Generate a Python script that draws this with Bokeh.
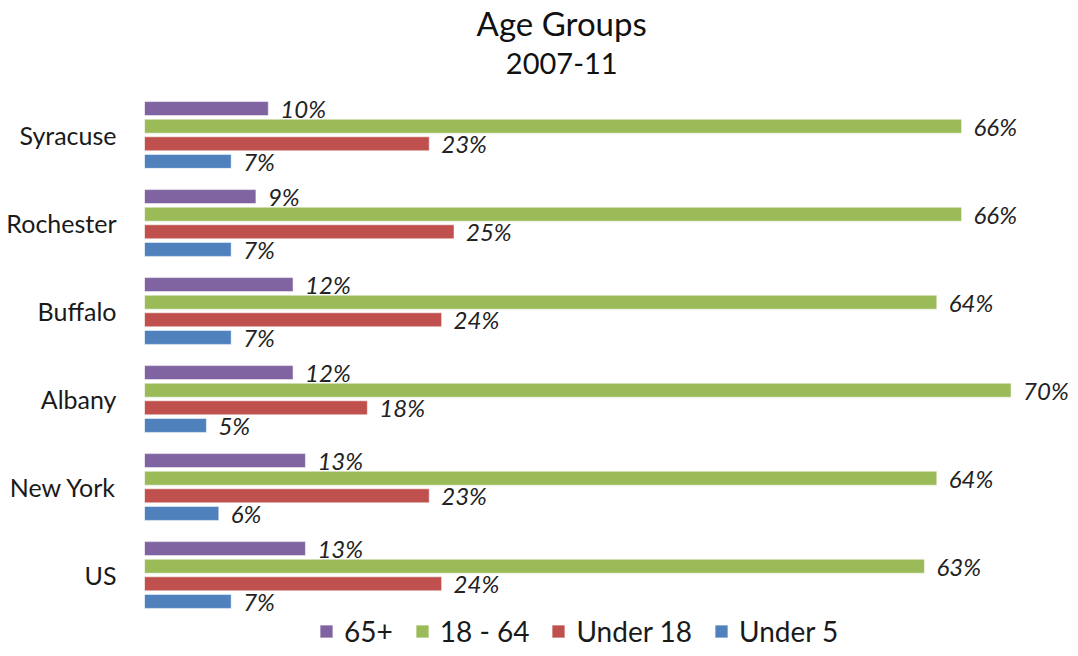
from bokeh.plotting import figure
from bokeh.models import ColumnDataSource, Range1d, FixedTicker, Legend, LegendItem, Label
from bokeh.transform import dodge
from bokeh.core.properties import value
from bokeh.embed import file_html
from bokeh.resources import INLINE

# ---- data ----
cities = ["Syracuse", "Rochester", "Buffalo", "Albany", "New York", "US"]
age_65_plus = [10, 9, 12, 12, 13, 13]
age_18_64 = [66, 66, 64, 70, 64, 63]
under_18 = [23, 25, 24, 18, 23, 24]
under_5 = [7, 7, 7, 5, 6, 7]
series_names = ["65+", "18 - 64", "Under 18", "Under 5"]
series_colors = ["#8064A2", "#9BBB59", "#C0504D", "#4F81BD"]
title_text = "Age Groups"
subtitle_text = "2007-11"

FONT = "Lato"
n = len(cities)
ypos = [n - 1 - i for i in range(n)]

src = ColumnDataSource(dict(
    y=ypos,
    s0=age_65_plus, s1=age_18_64, s2=under_18, s3=under_5,
    l0=[f"{v}%" for v in age_65_plus],
    l1=[f"{v}%" for v in age_18_64],
    l2=[f"{v}%" for v in under_18],
    l3=[f"{v}%" for v in under_5],
))

p = figure(width=1070, height=648, output_backend="svg", toolbar_location=None,
           x_range=Range1d(0, 74.8), y_range=Range1d(-0.835, 6.528),
           min_border_left=144, min_border_right=0, min_border_top=0, min_border_bottom=0)
p.outline_line_color = None
p.xgrid.visible = False
p.ygrid.visible = False
p.xaxis.visible = False

offsets = [0.3, 0.1, -0.1, -0.3]
renderers = []
for k in range(4):
    r = p.hbar(y=dodge("y", offsets[k], range=p.y_range), left=0, right=f"s{k}",
               height=0.159, source=src, fill_color=series_colors[k],
               line_color="white", line_alpha=0.5, line_width=1)
    renderers.append(r)
    p.text(x=f"s{k}", y=dodge("y", offsets[k], range=p.y_range), text=f"l{k}", source=src,
           x_offset=12, text_baseline="middle", text_align="left",
           text_font=value(FONT), text_font_style="italic", text_font_size="24px",
           text_color="#222222")

yaxis = p.yaxis[0]
yaxis.ticker = FixedTicker(ticks=ypos)
yaxis.major_label_overrides = {y: c for y, c in zip(ypos, cities)}
yaxis.axis_line_color = None
yaxis.major_tick_line_color = None
yaxis.minor_tick_line_color = None
yaxis.major_label_standoff = 22
yaxis.major_label_text_font = FONT
yaxis.major_label_text_font_size = "25px"
yaxis.major_label_text_color = "#1a1a1a"

p.add_layout(Label(x=33.7, y=6.267, text=title_text, text_align="center", text_baseline="middle",
                   text_font=FONT, text_font_size="33px", text_color="#111111"))
p.add_layout(Label(x=33.7, y=5.8125, text=subtitle_text, text_align="center", text_baseline="middle",
                   text_font=FONT, text_font_size="29px", text_color="#111111"))

legend = Legend(items=[LegendItem(label=series_names[k], renderers=[renderers[k]]) for k in range(4)],
                orientation="horizontal", location=(174, 0),
                glyph_width=16, glyph_height=16, label_standoff=10, spacing=21,
                padding=0, margin=0, border_line_color=None, background_fill_alpha=0,
                label_text_font=FONT, label_text_font_size="28px", label_text_color="#1a1a1a")
p.add_layout(legend)

open("out.html", "w").write(file_html(p, INLINE))
